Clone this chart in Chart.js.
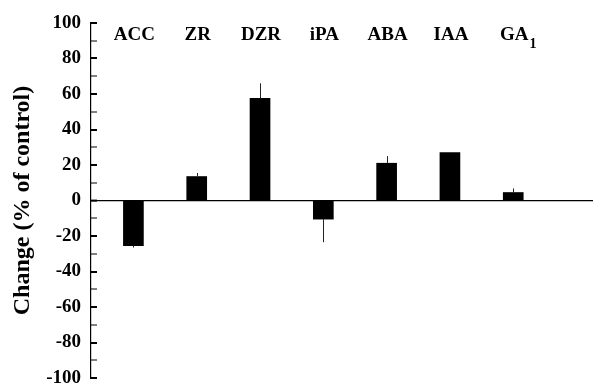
<!DOCTYPE html>
<html>
<head>
<meta charset="utf-8">
<script src="https://cdn.jsdelivr.net/npm/chart.js@4/dist/chart.umd.min.js"></script>
<style>
  html, body { margin: 0; padding: 0; background: #fff; }
  #wrap { width: 595px; height: 385px; }
</style>
</head>
<body>
<div id="wrap"><canvas id="c" width="595" height="385"></canvas></div>
<script>
// Plant hormones measured (trailing digits are drawn as a subscript)
const hormones = ['ACC', 'ZR', 'DZR', 'iPA', 'ABA', 'IAA', 'GA1'];
// Change relative to control, in percent
const changePct = [-25.5, 13.5, 57.5, -10.5, 21, 27, 4.5];
// Error bar length (one-sided, away from zero)
const changeErr = [1, 2, 8.5, 13, 4, 0, 2.3];
// Labelled y ticks
const yTickLabels = [-100, -80, -60, -40, -20, 0, 20, 40, 60, 80, 100];

const SERIF = '"Liberation Serif", "Times New Roman", serif';
const labelLevel = 90.7;   // y value of the hormone name baseline

const errorBars = {
  id: 'errorBars',
  afterDatasetsDraw(chart) {
    const { ctx, scales: { y } } = chart;
    const meta = chart.getDatasetMeta(0);
    ctx.save();
    ctx.strokeStyle = '#222';
    ctx.lineWidth = 1;
    meta.data.forEach((bar, i) => {
      const e = changeErr[i];
      if (!e) return;
      const v = changePct[i];
      const end = v + Math.sign(v) * e;
      const px = Math.round(bar.x) + 0.5;
      ctx.beginPath();
      ctx.moveTo(px, y.getPixelForValue(v));
      ctx.lineTo(px, y.getPixelForValue(end));
      ctx.stroke();
    });
    ctx.restore();
  }
};

const nameLabels = {
  id: 'nameLabels',
  afterDraw(chart) {
    const { ctx, scales: { x, y } } = chart;
    const base = y.getPixelForValue(labelLevel);
    ctx.save();
    ctx.fillStyle = '#000';
    ctx.textBaseline = 'alphabetic';
    ctx.textAlign = 'left';
    hormones.forEach((name, i) => {
      const m = name.match(/^(.*?)(\d*)$/);
      const main = m[1], sub = m[2];
      ctx.font = 'bold 19px ' + SERIF;
      const w = ctx.measureText(main).width;
      const cx = x.getPixelForValue(i + 1) + 1;
      const left = cx - w / 2;
      ctx.fillText(main, left, base);
      if (sub) {
        ctx.font = 'bold 14px ' + SERIF;
        ctx.fillText(sub, left + w + 1, base + 8);
      }
    });
    ctx.restore();
  }
};

new Chart(document.getElementById('c'), {
  type: 'bar',
  data: {
    datasets: [{
      data: changePct.map((v, i) => ({ x: i + 1, y: v })),
      backgroundColor: '#000',
      borderWidth: 0,
      barThickness: 20
    }]
  },
  options: {
    responsive: false,
    animation: false,
    devicePixelRatio: 1,
    layout: { padding: { top: 23, bottom: 7, left: 0, right: 2 } },
    plugins: { legend: { display: false }, tooltip: { enabled: false } },
    scales: {
      x: { type: 'linear', offset: false, min: 0.33, max: 8.26, display: false },
      y: {
        min: -100,
        max: 100,
        ticks: {
          stepSize: 10,
          autoSkip: false,
          padding: 16,
          color: '#000',
          font: { family: SERIF, size: 19, weight: 'bold' },
          callback: (v) => yTickLabels.includes(v) ? String(v) : ''
        },
        grid: {
          drawOnChartArea: true,
          tickLength: -6,
          color: (c) => (c.tick && c.tick.value === 0) ? '#000' : 'rgba(0,0,0,0)',
          lineWidth: (c) => (c.tick && c.tick.value === 0) ? 1.2 : 0,
          tickColor: '#000',
          tickWidth: (c) => (c.tick && yTickLabels.includes(c.tick.value)) ? 2 : 1
        },
        border: { color: '#000', width: 1.2 },
        title: {
          display: true,
          text: 'Change (% of control)',
          color: '#000',
          font: { family: SERIF, size: 24, weight: 'bold' },
          padding: { top: 8, bottom: 0 }
        },
        afterFit(scale) {
          scale.width = 91;
          scale.paddingTop = 0;
          scale.paddingBottom = 0;
        }
      }
    }
  },
  plugins: [errorBars, nameLabels]
});
</script>
</body>
</html>
